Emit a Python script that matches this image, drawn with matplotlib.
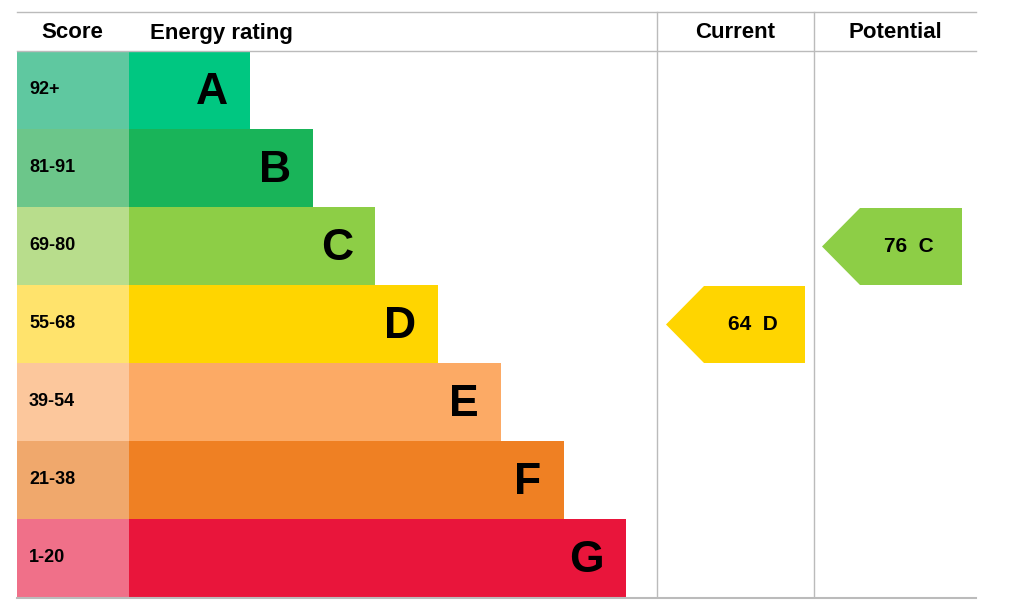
import matplotlib
matplotlib.use("Agg")
import matplotlib.pyplot as plt
from matplotlib.patches import Rectangle, Polygon

bands = ["A", "B", "C", "D", "E", "F", "G"]
score_labels = ["92+", "81-91", "69-80", "55-68", "39-54", "21-38", "1-20"]
band_min = [92, 81, 69, 55, 39, 21, 1]
bar_colors = ["#00c781", "#19b459", "#8dce46", "#ffd500", "#fcaa65", "#ef8023", "#e9153b"]
score_colors = ["#5fc8a0", "#6cc68a", "#b8dd8c", "#ffe36c", "#fcc79c", "#f0a86c", "#f07089"]
current = 64
potential = 76

def band_of(v):
    for i, m in enumerate(band_min):
        if v >= m:
            return i
    return len(bands) - 1

plt.rcParams['font.family'] = ['Liberation Sans', 'DejaVu Sans']
fig = plt.figure(figsize=(10.24, 6.07), dpi=100)
ax = fig.add_axes([0, 0, 1, 1])
ax.set_xlim(0, 1024); ax.set_ylim(607, 0); ax.axis('off')

top, head, rh = 12, 51, 78
x0, xs, bar_start, bar_step, bar_w0 = 17, 129, 129, 62.7, 121
col1, col2, right = 657, 814, 976
grey = "#bbbbbb"

ax.text(72, 33, "Score", ha='center', va='center', fontsize=16, fontweight='bold')
ax.text(150, 33, "Energy rating", ha='left', va='center', fontsize=16, fontweight='bold')
ax.text((col1 + col2) / 2, 33, "Current", ha='center', va='center', fontsize=16, fontweight='bold')
ax.text((col2 + right) / 2, 33, "Potential", ha='center', va='center', fontsize=16, fontweight='bold')

for i, b in enumerate(bands):
    y = head + i * rh
    ax.add_patch(Rectangle((x0, y), xs - x0, rh, color=score_colors[i], lw=0))
    w = bar_w0 + i * bar_step
    ax.add_patch(Rectangle((bar_start, y), w, rh, color=bar_colors[i], lw=0))
    ax.text(x0 + 12, y + rh / 2, score_labels[i], ha='left', va='center', fontsize=13, fontweight='bold')
    ax.text(bar_start + w - 22, y + rh / 2 + 2, b, ha='right', va='center', fontsize=32, fontweight='bold')

bottom = head + 7 * rh
ax.plot([x0, right], [top, top], color=grey, lw=1)
ax.plot([x0, right], [head, head], color=grey, lw=1)
ax.plot([x0, right], [bottom + 1, bottom + 1], color=grey, lw=1.5)
for x in (col1, col2):
    ax.plot([x, x], [top, bottom], color=grey, lw=1)

def arrow(v, xl, xr):
    i = band_of(v)
    y = head + i * rh + 1
    h = rh - 1
    tip = 38
    ax.add_patch(Polygon([(xl, y + h / 2), (xl + tip, y), (xr, y), (xr, y + h), (xl + tip, y + h)],
                         closed=True, color=bar_colors[i], lw=0))
    ax.text((xl + tip + xr) / 2 - 2, y + h / 2, f"{v}  {bands[i]}", ha='center', va='center',
            fontsize=15, fontweight='bold')

arrow(current, 666, 805)
arrow(potential, 822, 962)

fig.savefig("out.png", dpi=100)
